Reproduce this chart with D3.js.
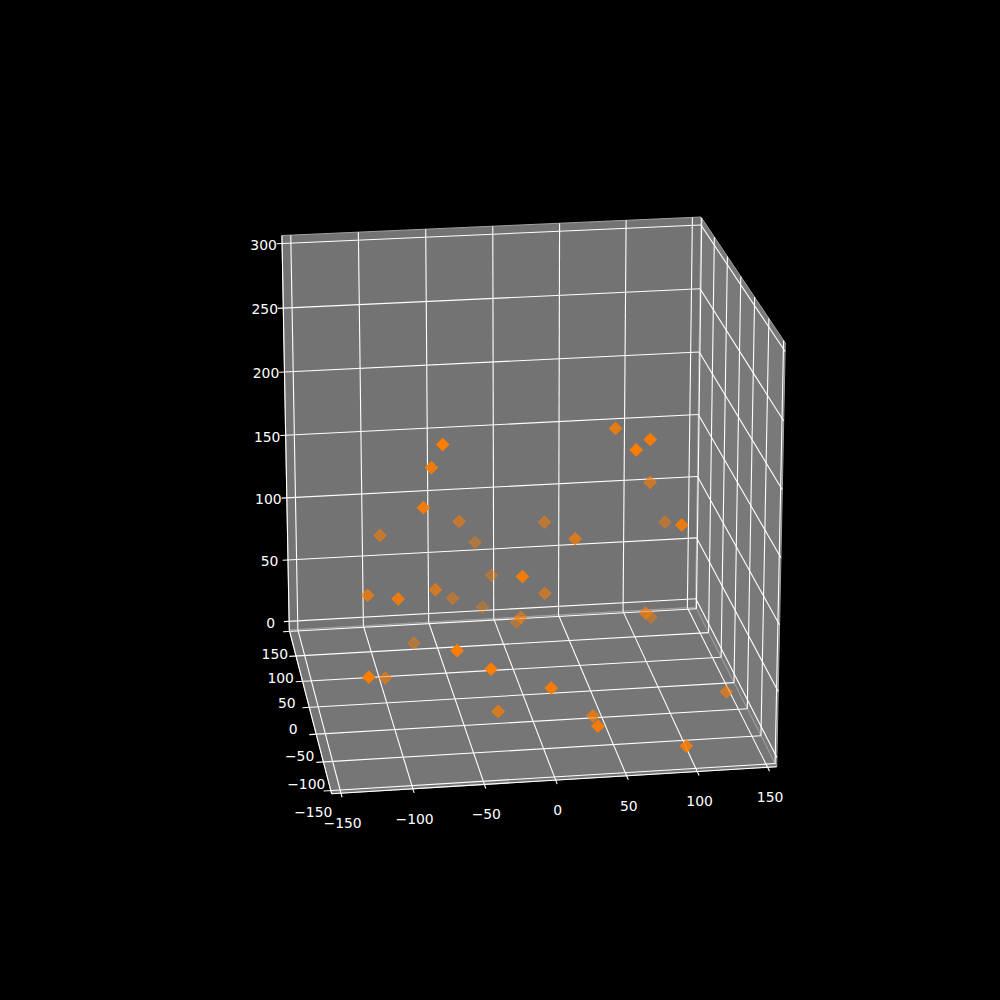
<!DOCTYPE html>
<html>
<head>
<meta charset="utf-8">
<script src="https://cdn.jsdelivr.net/npm/d3@7"></script>
<style>
  body { margin: 0; background: #000; }
  text { font-family: "DejaVu Sans", sans-serif; font-size: 13.9px; fill: #fff; text-anchor: middle; }
</style>
</head>
<body>
<svg id="chart" width="1000" height="1000"></svg>
<script>
// values
const xValues = [-73.8, -76.0, -84.3, -102.3, -45.9, -28.7, -117.6, -101.8, -68.2, -48.3, -17.6, -18.2, 13.3, -22.7, -4.2, -0.6, 16.9, 28.4, 53.2, 71.3, 56.1, 87.2, 105.4, 93.9, -77.1, -67.9, -128.9, -102.0, -44.3, -2.4, -29.0, 81.4, 93.4, 37.2, 30.5, 93.3, 136.9];
const yValues = [-75, -30, -50, 61, 53, 95, 7, -44, 15, 74, 88, -71, 32, 100, 32, 78, 58, -10, -31, -67, -98, 20, 59, -68, 72, -100, -98, 40, -100, -100, -26, 1, 46, -38, -100, -99, -20];
const zValues = [234.6, 202.1, 180.1, 119.4, 129.9, 97.2, 94.7, 110.8, 93.0, 62.4, 73.3, 133.0, 78.9, 43.8, 61.3, 39.2, 124.0, 135.7, 224.5, 227.8, 231.8, 164.3, 118.7, 163.9, 29.6, 92.3, 75.4, 16.6, 77.0, 60.2, 13.4, 71.7, 50.1, 10.9, 29.4, 9.9, 15.7];

const xTicks = [-150, -100, -50, 0, 50, 100, 150];
const yTicks = [-100, -50, 0, 50, 100, 150, 200];
const zTicks = [0, 50, 100, 150, 200, 250, 300];
const xLabels = [-150, -100, -50, 0, 50, 100, 150];
const yLabels = [-150, -100, -50, 0, 50, 100, 150];
const zLabels = [0, 50, 100, 150, 200, 250, 300];

const xLim = [-156.5, 156.5], yLim = [-105.6, 203], zLim = [-7.1, 306.2];

// box corners on screen and the perspective of each edge
const origin = [695.7, 607.3];   // xmax, ymax, zmin
const xEnd = [289.3, 630];       // xmin
const yEnd = [776.7, 766.7];     // ymin
const zEnd = [701, 217];         // zmax
const persX = 0.988, persY = 0.912, persZ = 0.970;

const sx = d3.scaleLinear(xLim, [1, 0]);
const sy = d3.scaleLinear(yLim, [1, 0]);
const sz = d3.scaleLinear(zLim, [0, 1]);

function project(x, y, z) {
    const s = sx(x), t = sy(y), w = sz(z);
    const d = 1 + s * (persX - 1) + t * (persY - 1) + w * (persZ - 1);
    return [0, 1].map(k => (origin[k]
        + s * (persX * xEnd[k] - origin[k])
        + t * (persY * yEnd[k] - origin[k])
        + w * (persZ * zEnd[k] - origin[k])) / d);
}

const fmt = d3.format("d");
const svg = d3.select("#chart");
svg.append("rect").attr("width", 1000).attr("height", 1000).attr("fill", "#000");

// panes
const panes = [
    { fill: "#737373", c: [[xLim[0], yLim[1], zLim[0]], [xLim[1], yLim[1], zLim[0]], [xLim[1], yLim[1], zLim[1]], [xLim[0], yLim[1], zLim[1]]] },
    { fill: "#797979", c: [[xLim[1], yLim[0], zLim[0]], [xLim[1], yLim[1], zLim[0]], [xLim[1], yLim[1], zLim[1]], [xLim[1], yLim[0], zLim[1]]] },
    { fill: "#767676", c: [[xLim[0], yLim[0], zLim[0]], [xLim[1], yLim[0], zLim[0]], [xLim[1], yLim[1], zLim[0]], [xLim[0], yLim[1], zLim[0]]] }
];
svg.selectAll(".pane").data(panes).enter().append("polygon")
    .attr("class", "pane")
    .attr("points", d => d.c.map(p => project(...p).join(",")).join(" "))
    .attr("fill", d => d.fill)
    .attr("stroke", "#a0a0a0")
    .attr("stroke-width", 1);

function line3d(a, b, width) {
    const p = project(...a), q = project(...b);
    svg.append("line")
        .attr("x1", p[0]).attr("y1", p[1])
        .attr("x2", q[0]).attr("y2", q[1])
        .attr("stroke", "#fff")
        .attr("stroke-width", width || 1.1);
}

// grid and tick marks
xTicks.forEach(x => {
    line3d([x, yLim[1], zLim[0]], [x, yLim[1], zLim[1]]);
    line3d([x, yLim[1], zLim[0]], [x, yLim[0] - 7, zLim[0]]);
});
yTicks.forEach(y => {
    line3d([xLim[0] - 5, y, zLim[0]], [xLim[1], y, zLim[0]]);
    line3d([xLim[1], y, zLim[0]], [xLim[1], y, zLim[1]]);
});
zTicks.forEach(z => {
    line3d([xLim[0] - 4, yLim[1], z], [xLim[1], yLim[1], z]);
    line3d([xLim[1], yLim[1], z], [xLim[1], yLim[0], z]);
});

// axis lines
line3d([xLim[0], yLim[0], zLim[0]], [xLim[1], yLim[0], zLim[0]]);
line3d([xLim[0], yLim[0], zLim[0]], [xLim[0], yLim[1], zLim[0]]);
line3d([xLim[0], yLim[1], zLim[0]], [xLim[0], yLim[1], zLim[1]]);

// tick labels
const yLabelDx = d3.scaleLinear([-100, 150], [-24.5, -21.2]);
const yLabelDy = d3.scaleLinear([-100, 150], [-6.5, -2.2]);

svg.selectAll(".x-label").data(xLabels).enter().append("text")
    .attr("class", "x-label")
    .attr("x", d => project(d, yLim[0] - 7, zLim[0])[0] + 0.5)
    .attr("y", d => project(d, yLim[0] - 7, zLim[0])[1] + 26)
    .attr("dy", "0.35em")
    .text(fmt);
svg.selectAll(".y-label").data(yLabels).enter().append("text")
    .attr("class", "y-label")
    .attr("x", d => project(xLim[0], d, zLim[0])[0] + yLabelDx(d))
    .attr("y", d => project(xLim[0], d, zLim[0])[1] + yLabelDy(d))
    .attr("dy", "0.35em")
    .text(fmt);
svg.selectAll(".z-label").data(zLabels).enter().append("text")
    .attr("class", "z-label")
    .attr("x", d => project(xLim[0], yLim[1], d)[0] - 18.5)
    .attr("y", d => project(xLim[0], yLim[1], d)[1] + 1.5)
    .attr("dy", "0.35em")
    .text(fmt);

// points, farthest first, faded by depth
const closeness = (x, y, z) => -0.17 * x / 313 - 0.95 * y / 309 + 0.2 * z / 313;
const shade = d3.scaleLinear([-0.32, 0.42], [0.3, 1]).clamp(true);
const points = xValues.map((x, i) => ({ x, y: yValues[i], z: zValues[i], c: closeness(x, yValues[i], zValues[i]) }))
    .sort((a, b) => a.c - b.c);
const diamond = d3.symbol().type(d3.symbolSquare).size(76);

svg.selectAll(".point").data(points).enter().append("path")
    .attr("class", "point")
    .attr("d", diamond)
    .attr("transform", d => `translate(${project(d.x, d.y, d.z)}) rotate(45)`)
    .attr("fill", "#ff7d00")
    .attr("stroke", "#ff7d00")
    .attr("stroke-width", 1)
    .attr("fill-opacity", d => shade(d.c))
    .attr("stroke-opacity", d => shade(d.c));
</script>
</body>
</html>
